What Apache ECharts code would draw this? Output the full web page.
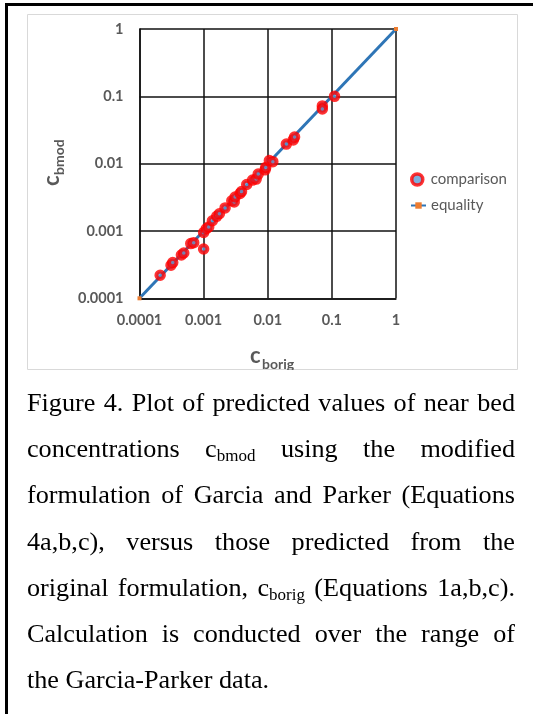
<!DOCTYPE html>
<html>
<head>
<meta charset="utf-8">
<script src="https://cdn.jsdelivr.net/npm/echarts@6/dist/echarts.min.js"></script>
<style>
html,body{margin:0;padding:0;width:533px;height:714px;overflow:hidden;background:#fff;}
#frame{position:absolute;left:5px;top:3px;width:700px;height:900px;border:3px solid #000;box-sizing:border-box;}
#chart{position:absolute;left:0;top:0;width:533px;height:714px;}
#caption{position:absolute;left:27px;top:380px;width:488px;font-family:"Liberation Serif","Times New Roman",serif;font-size:26.2px;line-height:46.2px;color:#000;}
#caption .j{text-align:justify;text-align-last:justify;}
#caption .l{text-align:left;}
#caption .sub{font-size:17px;vertical-align:-4px;line-height:0;}
</style>
</head>
<body>
<div id="frame"></div>
<div id="chart"></div>
<div id="caption">
<div class="j">Figure 4. Plot of predicted values of near bed</div>
<div class="j">concentrations c<span class="sub">bmod</span> using the modified</div>
<div class="j">formulation of Garcia and Parker (Equations</div>
<div class="j">4a,b,c), versus those predicted from the</div>
<div class="j">original formulation, c<span class="sub">borig</span> (Equations 1a,b,c).</div>
<div class="j">Calculation is conducted over the range of</div>
<div class="l">the Garcia-Parker data.</div>
</div>
<script>
// ---- data ----
const tickLabels = ['0.0001', '0.001', '0.01', '0.1', '1'];
const cbOrig = [0.00021, 0.00031, 0.00033, 0.00045, 0.00049, 0.00063, 0.00070, 0.00100, 0.00100,
  0.00110, 0.00120, 0.00137, 0.00160, 0.00176, 0.00216, 0.00275, 0.00300, 0.00310, 0.00370,
  0.00390, 0.00470, 0.00580, 0.00660, 0.00710, 0.00910, 0.00930, 0.0106, 0.0120, 0.0195,
  0.0250, 0.0262, 0.0710, 0.0710, 0.110];
const cbMod = [0.00022, 0.00031, 0.00034, 0.00044, 0.00047, 0.00065, 0.00067, 0.00054, 0.00095,
  0.00108, 0.00115, 0.00142, 0.00165, 0.00180, 0.00220, 0.00280, 0.00270, 0.00320, 0.00360,
  0.00385, 0.00490, 0.00570, 0.00590, 0.00700, 0.00810, 0.00880, 0.0111, 0.0107, 0.0195,
  0.0225, 0.0248, 0.0720, 0.0650, 0.100];
const equalityX = [0.0001, 1];
const equalityY = [0.0001, 1];

const labelFmt = v => tickLabels[Math.round(Math.log10(v)) + 4];
const gridColor = '#111111';
const axisFont = {color: '#595959', fontWeight: 'bold', fontFamily: 'Lato', fontSize: 14.5};

const chart = echarts.init(document.getElementById('chart'), null, {renderer: 'canvas'});
chart.setOption({
  backgroundColor: 'transparent',
  animation: false,
  grid: {left: 139.5, right: 137, top: 29, bottom: 415.7},
  xAxis: {
    type: 'log', logBase: 10, min: 0.0001, max: 1,
    axisLine: {show: true, onZero: false, lineStyle: {color: gridColor, width: 1.5}},
    axisTick: {show: false}, minorTick: {show: false},
    splitLine: {show: true, lineStyle: {color: gridColor, width: 1.5}},
    axisLabel: Object.assign({formatter: labelFmt, margin: 15}, axisFont)
  },
  yAxis: {
    type: 'log', logBase: 10, min: 0.0001, max: 1,
    axisLine: {show: true, onZero: false, lineStyle: {color: gridColor, width: 1.5}},
    axisTick: {show: false}, minorTick: {show: false},
    splitLine: {show: true, lineStyle: {color: gridColor, width: 1.5}},
    axisLabel: Object.assign({formatter: labelFmt, margin: 16}, axisFont)
  },
  legend: [
    {data: [{name: 'comparison', itemStyle: {color: '#5B9BD5', borderColor: '#FF0000', borderWidth: 3.5}}],
     left: 410, top: 172, padding: 0, itemWidth: 11, itemHeight: 11,
     textStyle: {color: '#595959', fontFamily: 'Lato', fontSize: 15, padding: [0, 0, 0, 3]}},
    {data: ['equality'], left: 410, top: 198, padding: 0, itemWidth: 15, itemHeight: 8,
     textStyle: {color: '#595959', fontFamily: 'Lato', fontSize: 15}}
  ],
  graphic: [
    {type: 'rect', silent: true, z: 0, shape: {x: 27.5, y: 14.5, width: 490, height: 355},
     style: {fill: 'transparent', stroke: '#d9d9d9', lineWidth: 1}},
    {type: 'text', left: 250, top: 345, z: 10,
     style: {text: 'c', fill: '#595959', font: 'bold 22px Lato'}},
    {type: 'text', left: 262, top: 357, z: 10,
     style: {text: 'borig', fill: '#595959', font: 'bold 14px Lato'}},
    {type: 'group', x: 52, y: 186, rotation: Math.PI / 2, z: 10, children: [
      {type: 'text', x: 0, y: 0, style: {text: 'c', fill: '#595959', font: 'bold 22px Lato', verticalAlign: 'middle', align: 'left'}},
      {type: 'text', x: 11, y: 7, style: {text: 'bmod', fill: '#595959', font: 'bold 14px Lato', verticalAlign: 'middle', align: 'left'}}
    ]},
    {type: 'rect', silent: true, z: 20, shape: {x: 28, y: 370, width: 489, height: 8},
     style: {fill: '#ffffff'}}
  ],
  series: [
    {
      name: 'comparison', type: 'scatter', z: 3,
      data: cbOrig.map((x, i) => [x, cbMod[i]]),
      symbol: 'circle', symbolSize: 7.5,
      itemStyle: {color: '#5B9BD5', borderColor: '#FF0000', borderWidth: 4},
      emphasis: {disabled: true}
    },
    {
      name: 'equality', type: 'line', z: 2,
      data: equalityX.map((x, i) => [x, equalityY[i]]),
      symbol: 'rect', symbolSize: 4, showSymbol: true,
      lineStyle: {color: '#2E75B6', width: 3},
      itemStyle: {color: '#ED7D31'},
      emphasis: {disabled: true}
    }
  ]
});
</script>
</body>
</html>
